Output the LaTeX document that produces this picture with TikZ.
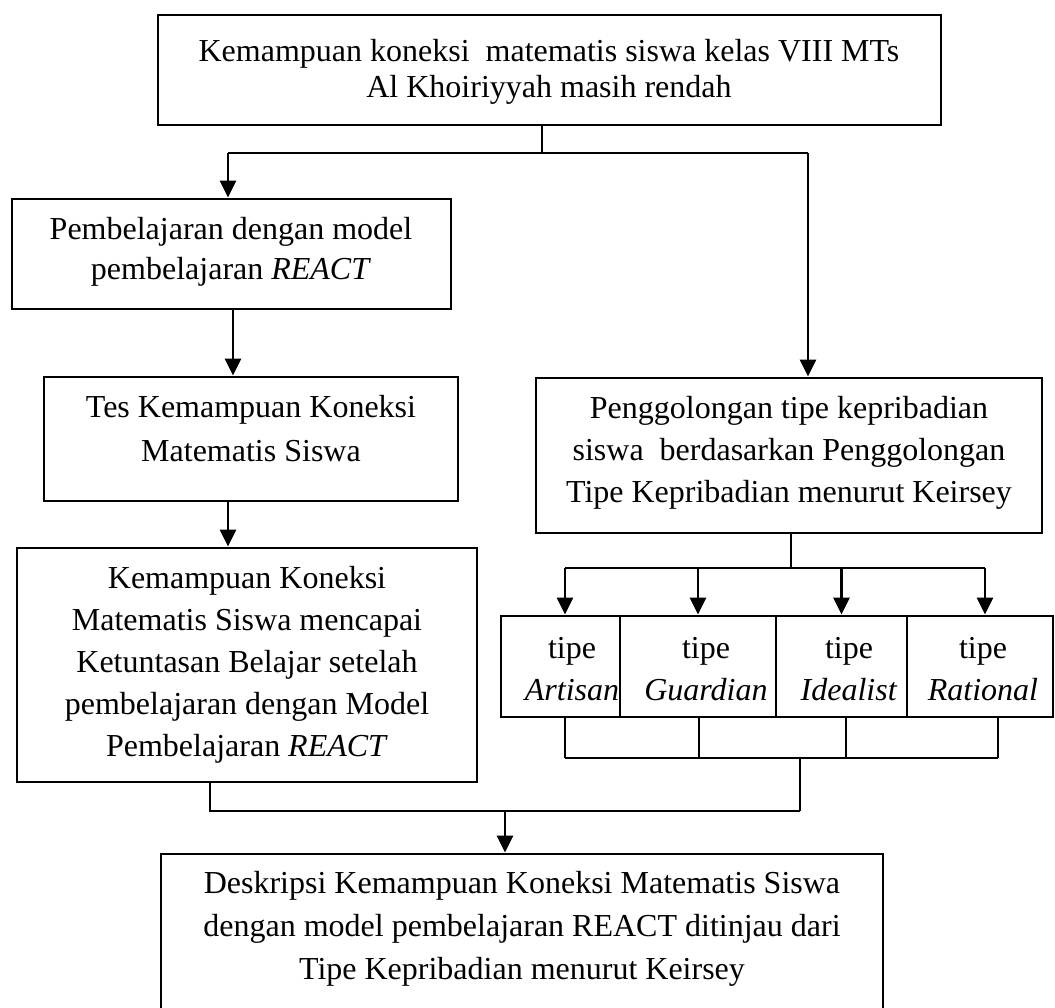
\documentclass[tikz,border=0pt]{standalone}
\usepackage{fontspec}
\setmainfont{Liberation Serif}
\usetikzlibrary{arrows.meta}
\newcommand\mlines[2]{\fontsize{32}{#1}\selectfont\begin{tabular}[t]{@{}c@{}}#2\end{tabular}}
\begin{document}
\begin{tikzpicture}[x=1pt,y=-1pt,
  box/.style={draw,line width=2.8pt,inner sep=0pt},
  txt/.style={inner sep=0pt,anchor=base},
  ln/.style={line width=2.8pt},
  arr/.style={line width=2.8pt,-{Triangle[length=17pt,width=16pt]}}]
\useasboundingbox (0,0) rectangle (1055,1008);
% boxes
\node[box,minimum width=783pt,minimum height=110pt] (top) at (549.5,70) {};
\node[box,minimum width=439pt,minimum height=110pt] (b1) at (231.5,254) {};
\node[box,minimum width=414pt,minimum height=124pt] (b2) at (251,439) {};
\node[box,minimum width=460pt,minimum height=234pt] (b3) at (247,665) {};
\node[box,minimum width=506pt,minimum height=155pt] (R) at (789,455.5) {};
\node[box,minimum width=119pt,minimum height=101pt] (ty1) at (560.5,666.5) {};
\node[box,minimum width=156pt,minimum height=101pt] (ty2) at (698,666.5) {};
\node[box,minimum width=131pt,minimum height=101pt] (ty3) at (841.5,666.5) {};
\node[box,minimum width=146pt,minimum height=101pt] (ty4) at (980,666.5) {};
\node[box,minimum width=722pt,minimum height=158pt] (fin) at (522,933) {};
% texts
\node[txt] (ttop) at (549,62) {\mlines{36pt}{Kemampuan koneksi\ \ matematis siswa kelas VIII MTs\\Al Khoiriyyah masih rendah}};
\node[txt] (tb1) at (231,240) {\mlines{40pt}{Pembelajaran dengan model\\pembelajaran \textit{REACT}}};
\node[txt] (tb2) at (251,417) {\mlines{44pt}{Tes Kemampuan Koneksi\\Matematis Siswa}};
\node[txt] (tb3) at (247,588) {\mlines{42pt}{Kemampuan Koneksi\\Matematis Siswa mencapai\\Ketuntasan Belajar setelah\\pembelajaran dengan Model\\Pembelajaran \textit{REACT}}};
\node[txt] (tR) at (789,418) {\mlines{42pt}{Penggolongan tipe kepribadian\\siswa\ \ berdasarkan Penggolongan\\Tipe Kepribadian menurut Keirsey}};
\node[txt] (tt1) at (572,658) {\mlines{42pt}{tipe\\\textit{Artisan}}};
\node[txt] (tt2) at (706,658) {\mlines{42pt}{tipe\\\textit{Guardian}}};
\node[txt] (tt3) at (849,658) {\mlines{42pt}{tipe\\\textit{Idealist}}};
\node[txt] (tt4) at (983,658) {\mlines{42pt}{tipe\\\textit{Rational}}};
\node[txt] (tfin) at (522,893) {\mlines{43pt}{Deskripsi Kemampuan Koneksi Matematis Siswa\\dengan model pembelajaran REACT ditinjau dari\\Tipe Kepribadian menurut Keirsey}};
% junctions
\coordinate (j1) at (542,153);
\coordinate (j1l) at (228,153);
\coordinate (j1r) at (808,153);
\coordinate (j2) at (791,568);
\coordinate (h2l) at (565,568);
\coordinate (h2r) at (985,568);
\coordinate (h3a) at (565,758);
\coordinate (h3b) at (699,758);
\coordinate (h3c) at (846,758);
\coordinate (h3d) at (998,758);
\coordinate (j3) at (800,811);
\coordinate (j4) at (210,811);
\coordinate (j5) at (505,811);
% connectors
\draw[ln] (top.south -| j1) -- (j1);
\draw[ln] (j1l) -- (j1r);
\draw[arr] (j1l) -- (j1l |- b1.north);
\draw[arr] (j1r) -- (j1r |- R.north);
\draw[arr] ([xshift=1.5pt]b1.south) -- ([xshift=1.5pt]b1.south |- b2.north);
\draw[arr] (b2.south -| j1l) -- (b3.north -| j1l);
\draw[ln] (R.south -| j2) -- (j2);
\draw[ln] (h2l) -- (h2r);
\draw[arr] (h2l) -- (h2l |- ty1.north);
\draw[arr] (ty2.north |- j2) -- (ty2.north);
\draw[arr] (ty3.north |- j2) -- (ty3.north);
\draw[arr] (h2r) -- (h2r |- ty4.north);
\draw[ln] (ty1.south -| h3a) -- (h3a);
\draw[ln] (ty2.south -| h3b) -- (h3b);
\draw[ln] (ty3.south -| h3c) -- (h3c);
\draw[ln] (ty4.south -| h3d) -- (h3d);
\draw[ln] (h3a) -- (h3d);
\draw[ln] (j3 |- h3a) -- (j3);
\draw[ln] (b3.south -| j4) -- (j4) -- (j3);
\draw[arr] (j5) -- (j5 |- fin.north);
\end{tikzpicture}
\end{document}
